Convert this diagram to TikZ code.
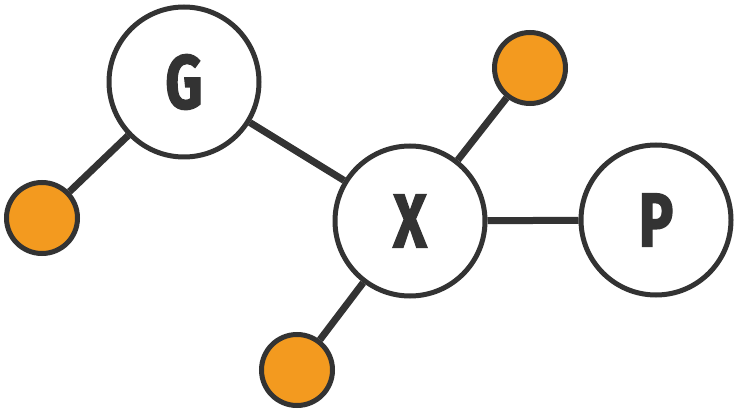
\documentclass[tikz,border=0pt]{standalone}
\usepackage{fontspec}
\setmainfont{Fira Sans}
\definecolor{ink}{HTML}{333333}
\definecolor{dot}{HTML}{F39A1F}
\newcommand{\fatletter}[1]{\special{pdf:literal direct 2 Tr 1.6 w}\scalebox{0.76}[1]{#1}\special{pdf:literal direct 0 Tr}}
\begin{document}
\begin{tikzpicture}[x=1pt,y=-1pt,
  big/.style={circle,draw=ink,line width=5pt,fill=white,minimum size=150pt,inner sep=0pt,text=ink,
    font=\fontsize{76}{76}\selectfont\bfseries},
  small/.style={circle,draw=ink,line width=5pt,fill=dot,minimum size=71pt,inner sep=0pt},
  link/.style={draw=ink,line width=7pt}]
\useasboundingbox (0,0) rectangle (739,414);
\node[big] (G) at (184,82) {\fatletter{G}};
\node[big] (X) at (410,221) {\fatletter{X}};
\node[big] (P) at (656,220) {\fatletter{P}};
\node[small] (o1) at (530,68) {};
\node[small] (o2) at (42,218) {};
\node[small] (o3) at (297,370) {};
\draw[link] (G) -- (o2);
\draw[link] (G) -- (X);
\draw[link] (X) -- (o1);
\draw[link] (X) -- (P);
\draw[link] (X) -- (o3);
\end{tikzpicture}
\end{document}
